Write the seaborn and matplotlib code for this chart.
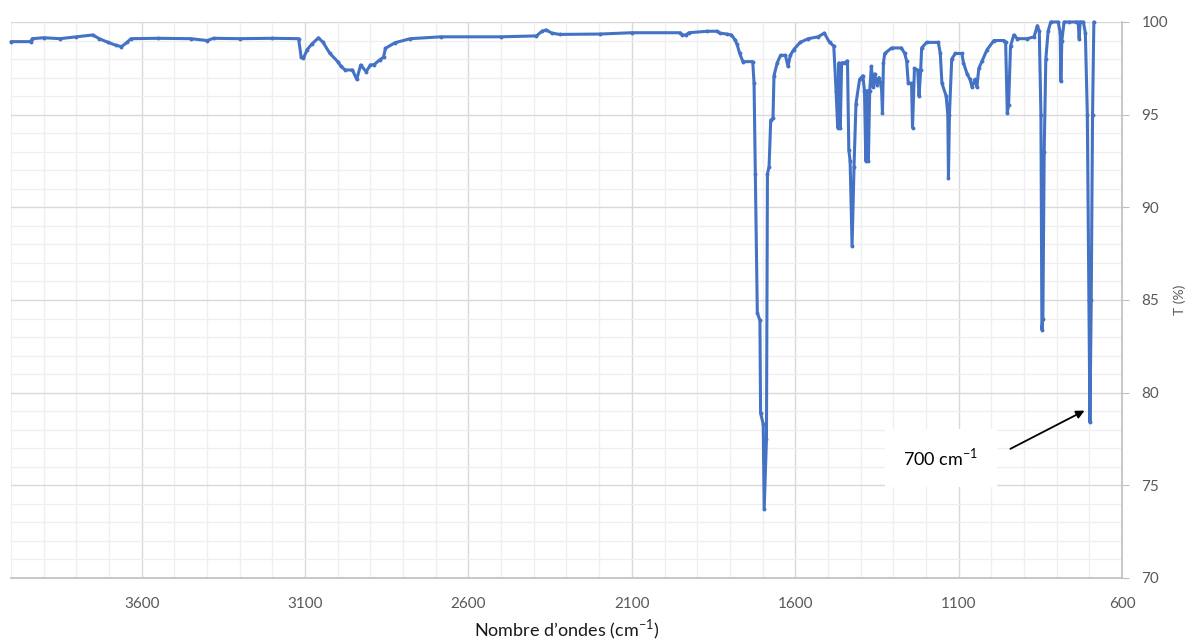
import pandas as pd
import matplotlib.pyplot as plt
import seaborn as sns
from matplotlib.ticker import MultipleLocator

# IR spectrum: wavenumber (cm-1) and transmittance (%)
wavenumber = [
    4000, 3940, 3935, 3900, 3850, 3800, 3750, 3730, 3703, 3680, 3662, 3645, 3633,
    3550, 3450, 3400, 3380, 3300, 3200, 3120, 3112, 3105, 3094, 3080, 3059, 3045,
    3024, 3000, 2990, 2977, 2955, 2942, 2930, 2913, 2900, 2889, 2872, 2860, 2854,
    2825, 2778, 2684, 2500, 2392, 2375, 2362, 2345, 2321, 2197, 2100, 1952, 1945,
    1935, 1925, 1870, 1840, 1830, 1810, 1795, 1785, 1778, 1770, 1760, 1730, 1726,
    1722, 1716, 1708, 1706, 1698, 1695, 1688, 1685, 1680, 1675, 1668, 1665, 1655,
    1645, 1630, 1622, 1615, 1605, 1585, 1560, 1530, 1511, 1495, 1482, 1475, 1470,
    1466, 1462, 1458, 1449, 1440, 1436, 1432, 1426, 1420, 1414, 1403, 1393, 1388,
    1384, 1380, 1376, 1372, 1367, 1362, 1357, 1350, 1344, 1336, 1333, 1330, 1326,
    1305, 1275, 1265, 1259, 1254, 1244, 1241, 1235, 1225, 1221, 1216, 1213, 1198,
    1162, 1156, 1151, 1138, 1133, 1131, 1128, 1121, 1110, 1090, 1085, 1074, 1065,
    1059, 1050, 1044, 1038, 1028, 1013, 992, 961, 956, 951, 947, 941, 931, 920,
    890, 869, 859, 853, 848, 845, 842, 838, 833, 826, 818, 795, 789, 787, 784,
    777, 761, 740, 734, 731, 728, 718, 712, 706, 701, 698, 694, 690, 686,
]
transmittance = [
    98.94, 98.94, 99.10, 99.15, 99.10, 99.20, 99.30, 99.10, 98.90, 98.75, 98.67, 98.90, 99.10,
    99.12, 99.10, 99.00, 99.12, 99.10, 99.12, 99.10, 98.10, 98.04, 98.50, 98.80, 99.15, 98.90,
    98.30, 97.86, 97.60, 97.41, 97.41, 96.90, 97.68, 97.32, 97.68, 97.70, 97.95, 98.10, 98.58,
    98.88, 99.10, 99.20, 99.20, 99.25, 99.50, 99.57, 99.40, 99.33, 99.35, 99.42, 99.42, 99.30,
    99.30, 99.42, 99.50, 99.50, 99.40, 99.35, 99.30, 99.05, 98.80, 98.30, 97.86, 97.86, 96.70,
    91.80, 84.30, 83.90, 78.90, 78.30, 73.70, 77.50, 91.80, 92.20, 94.70, 94.80, 97.10, 97.80,
    98.20, 98.20, 97.60, 98.20, 98.50, 98.90, 99.10, 99.20, 99.40, 98.90, 98.70, 96.30, 94.30,
    97.80, 94.30, 97.80, 97.80, 97.90, 93.10, 92.50, 87.90, 92.20, 95.60, 96.90, 97.10, 96.30,
    92.50, 96.30, 92.50, 96.30, 97.60, 96.50, 97.20, 96.60, 97.00, 96.50, 95.10, 97.80, 98.30,
    98.60, 98.60, 98.30, 97.90, 96.70, 96.70, 94.30, 97.50, 97.40, 96.00, 97.40, 98.60, 98.90,
    98.90, 98.30, 96.70, 96.00, 95.00, 91.60, 95.00, 98.00, 98.30, 98.30, 97.80, 97.20, 96.90,
    96.50, 96.90, 96.50, 97.50, 97.90, 98.50, 99.00, 99.00, 98.90, 95.10, 95.50, 98.70, 99.30, 99.10,
    99.10, 99.20, 99.80, 99.50, 95.00, 83.40, 84.00, 93.00, 98.00, 99.50, 100.0, 100.0, 99.40, 96.80, 99.00,
    100.0, 100.0, 100.0, 100.0, 99.10, 100.0, 100.0, 99.40, 95.00, 85.00, 78.40, 85.00, 95.00, 100.0,
]

x_ticks = [3600, 3100, 2600, 2100, 1600, 1100, 600]
y_ticks = [70, 75, 80, 85, 90, 95, 100]

spectrum = pd.DataFrame({'wn': wavenumber, 'T': transmittance})

sns.set_style('white')
plt.rcParams['font.family'] = ['Lato', 'DejaVu Sans']
plt.rcParams['mathtext.fontset'] = 'custom'
plt.rcParams['mathtext.rm'] = 'Lato'

fig = plt.figure(figsize=(11.86, 6.41), dpi=100)
ax = fig.add_axes([0.0093, 0.0983, 0.9367, 0.8674])

sns.lineplot(data=spectrum, x='wn', y='T', sort=False, estimator=None,
             color='#4472C4', linewidth=2.2, marker='o', markersize=2.8,
             markeredgewidth=0, clip_on=False, ax=ax)

ax.set_xlim(4000, 600)
ax.set_ylim(70, 100)
ax.set_xticks(x_ticks)
ax.set_yticks(y_ticks)
ax.xaxis.set_minor_locator(MultipleLocator(100))
ax.yaxis.set_minor_locator(MultipleLocator(1))

# Excel-like grid
ax.set_axisbelow(True)
ax.grid(which='major', color='#d9d9d9', linewidth=1.0)
ax.grid(which='minor', color='#efefef', linewidth=0.9)

for side in ['top', 'left']:
    ax.spines[side].set_visible(False)
for side in ['bottom', 'right']:
    ax.spines[side].set_color('#bfbfbf')
    ax.spines[side].set_linewidth(1.2)

ax.yaxis.tick_right()
ax.yaxis.set_label_position('right')
ax.tick_params(which='major', length=5, color='#bfbfbf', labelsize=11, labelcolor='#595959')
ax.tick_params(axis='x', which='major', pad=9)
ax.tick_params(axis='y', which='major', pad=9)
ax.tick_params(which='minor', length=0)

ax.set_xlabel('Nombre d\u2019ondes (cm$^{-1}$)', fontsize=13, color='#1a1a1a', labelpad=5)
ax.set_ylabel('T (%)', fontsize=10, color='#595959', labelpad=4)

# annotation of the 700 cm-1 band
ax.text(1154, 76.5, '700 cm$^{-1}$', fontsize=13, color='black', ha='center', va='center',
        bbox=dict(boxstyle='square,pad=1.0', facecolor='white', edgecolor='none'))
ax.annotate('', xy=(707, 79.1), xytext=(949, 76.9),
            arrowprops=dict(arrowstyle='-|>', color='black', lw=1.3, mutation_scale=12))

plt.savefig('out.png', dpi=100)
